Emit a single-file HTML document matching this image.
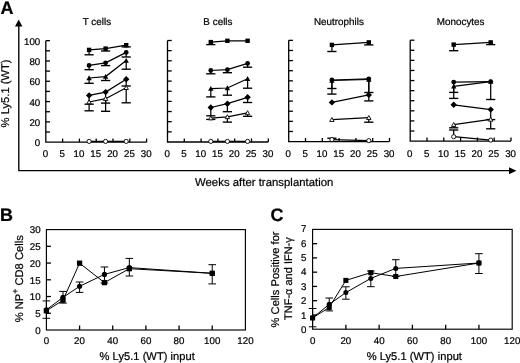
<!DOCTYPE html>
<html><head><meta charset="utf-8"><style>
html,body{margin:0;padding:0;background:#fff;width:520px;height:363px;overflow:hidden}
svg{display:block;filter:grayscale(1) blur(0.3px)}
text{font-family:"Liberation Sans", sans-serif;fill:#000;stroke:#000;stroke-width:0.22px}
</style></head><body>
<svg width="520" height="363" viewBox="0 0 520 363" fill="#000" stroke="#000">
<path d="M45.80 40.65V142.20H146.60" fill="none" stroke-width="1.3"/>
<line x1="45.80" y1="132.04" x2="50.00" y2="132.04" stroke-width="1.3"/>
<line x1="45.80" y1="121.89" x2="50.00" y2="121.89" stroke-width="1.3"/>
<line x1="45.80" y1="111.73" x2="50.00" y2="111.73" stroke-width="1.3"/>
<line x1="45.80" y1="101.58" x2="50.00" y2="101.58" stroke-width="1.3"/>
<line x1="45.80" y1="91.42" x2="50.00" y2="91.42" stroke-width="1.3"/>
<line x1="45.80" y1="81.27" x2="50.00" y2="81.27" stroke-width="1.3"/>
<line x1="45.80" y1="71.11" x2="50.00" y2="71.11" stroke-width="1.3"/>
<line x1="45.80" y1="60.96" x2="50.00" y2="60.96" stroke-width="1.3"/>
<line x1="45.80" y1="50.81" x2="50.00" y2="50.81" stroke-width="1.3"/>
<line x1="45.80" y1="40.65" x2="50.00" y2="40.65" stroke-width="1.3"/>
<line x1="62.60" y1="142.20" x2="62.60" y2="138.60" stroke-width="1.3"/>
<line x1="79.40" y1="142.20" x2="79.40" y2="138.60" stroke-width="1.3"/>
<line x1="96.20" y1="142.20" x2="96.20" y2="138.60" stroke-width="1.3"/>
<line x1="113.00" y1="142.20" x2="113.00" y2="138.60" stroke-width="1.3"/>
<line x1="129.80" y1="142.20" x2="129.80" y2="138.60" stroke-width="1.3"/>
<line x1="146.60" y1="142.20" x2="146.60" y2="138.60" stroke-width="1.3"/>
<text transform="translate(45.40 157.10) skewX(0.5)" font-size="9.8" text-anchor="middle" font-weight="normal" >0</text>
<text transform="translate(62.20 157.10) skewX(0.5)" font-size="9.8" text-anchor="middle" font-weight="normal" >5</text>
<text transform="translate(79.00 157.10) skewX(0.5)" font-size="9.8" text-anchor="middle" font-weight="normal" >10</text>
<text transform="translate(95.80 157.10) skewX(0.5)" font-size="9.8" text-anchor="middle" font-weight="normal" >15</text>
<text transform="translate(112.60 157.10) skewX(0.5)" font-size="9.8" text-anchor="middle" font-weight="normal" >20</text>
<text transform="translate(129.40 157.10) skewX(0.5)" font-size="9.8" text-anchor="middle" font-weight="normal" >25</text>
<text transform="translate(146.20 157.10) skewX(0.5)" font-size="9.8" text-anchor="middle" font-weight="normal" >30</text>
<text transform="translate(96.90 24.80) skewX(0.5)" font-size="9.9" text-anchor="middle" font-weight="normal" >T cells</text>
<text transform="translate(40.30 146.20) skewX(0.5)" font-size="9.8" text-anchor="end" font-weight="normal" >0</text>
<text transform="translate(40.30 125.89) skewX(0.5)" font-size="9.8" text-anchor="end" font-weight="normal" >20</text>
<text transform="translate(40.30 105.58) skewX(0.5)" font-size="9.8" text-anchor="end" font-weight="normal" >40</text>
<text transform="translate(40.30 85.27) skewX(0.5)" font-size="9.8" text-anchor="end" font-weight="normal" >60</text>
<text transform="translate(40.30 64.96) skewX(0.5)" font-size="9.8" text-anchor="end" font-weight="normal" >80</text>
<text transform="translate(40.30 44.65) skewX(0.5)" font-size="9.8" text-anchor="end" font-weight="normal" >100</text>
<path d="M167.50 40.50V142.00H268.30" fill="none" stroke-width="1.3"/>
<line x1="167.50" y1="131.85" x2="171.70" y2="131.85" stroke-width="1.3"/>
<line x1="167.50" y1="121.70" x2="171.70" y2="121.70" stroke-width="1.3"/>
<line x1="167.50" y1="111.55" x2="171.70" y2="111.55" stroke-width="1.3"/>
<line x1="167.50" y1="101.40" x2="171.70" y2="101.40" stroke-width="1.3"/>
<line x1="167.50" y1="91.25" x2="171.70" y2="91.25" stroke-width="1.3"/>
<line x1="167.50" y1="81.10" x2="171.70" y2="81.10" stroke-width="1.3"/>
<line x1="167.50" y1="70.95" x2="171.70" y2="70.95" stroke-width="1.3"/>
<line x1="167.50" y1="60.80" x2="171.70" y2="60.80" stroke-width="1.3"/>
<line x1="167.50" y1="50.65" x2="171.70" y2="50.65" stroke-width="1.3"/>
<line x1="167.50" y1="40.50" x2="171.70" y2="40.50" stroke-width="1.3"/>
<line x1="184.30" y1="142.00" x2="184.30" y2="138.40" stroke-width="1.3"/>
<line x1="201.10" y1="142.00" x2="201.10" y2="138.40" stroke-width="1.3"/>
<line x1="217.90" y1="142.00" x2="217.90" y2="138.40" stroke-width="1.3"/>
<line x1="234.70" y1="142.00" x2="234.70" y2="138.40" stroke-width="1.3"/>
<line x1="251.50" y1="142.00" x2="251.50" y2="138.40" stroke-width="1.3"/>
<line x1="268.30" y1="142.00" x2="268.30" y2="138.40" stroke-width="1.3"/>
<text transform="translate(167.10 157.10) skewX(0.5)" font-size="9.8" text-anchor="middle" font-weight="normal" >0</text>
<text transform="translate(183.90 157.10) skewX(0.5)" font-size="9.8" text-anchor="middle" font-weight="normal" >5</text>
<text transform="translate(200.70 157.10) skewX(0.5)" font-size="9.8" text-anchor="middle" font-weight="normal" >10</text>
<text transform="translate(217.50 157.10) skewX(0.5)" font-size="9.8" text-anchor="middle" font-weight="normal" >15</text>
<text transform="translate(234.30 157.10) skewX(0.5)" font-size="9.8" text-anchor="middle" font-weight="normal" >20</text>
<text transform="translate(251.10 157.10) skewX(0.5)" font-size="9.8" text-anchor="middle" font-weight="normal" >25</text>
<text transform="translate(267.90 157.10) skewX(0.5)" font-size="9.8" text-anchor="middle" font-weight="normal" >30</text>
<text transform="translate(217.90 24.80) skewX(0.5)" font-size="9.9" text-anchor="middle" font-weight="normal" >B cells</text>
<path d="M288.70 40.35V141.60H389.50" fill="none" stroke-width="1.3"/>
<line x1="288.70" y1="131.47" x2="292.90" y2="131.47" stroke-width="1.3"/>
<line x1="288.70" y1="121.35" x2="292.90" y2="121.35" stroke-width="1.3"/>
<line x1="288.70" y1="111.22" x2="292.90" y2="111.22" stroke-width="1.3"/>
<line x1="288.70" y1="101.10" x2="292.90" y2="101.10" stroke-width="1.3"/>
<line x1="288.70" y1="90.97" x2="292.90" y2="90.97" stroke-width="1.3"/>
<line x1="288.70" y1="80.85" x2="292.90" y2="80.85" stroke-width="1.3"/>
<line x1="288.70" y1="70.72" x2="292.90" y2="70.72" stroke-width="1.3"/>
<line x1="288.70" y1="60.60" x2="292.90" y2="60.60" stroke-width="1.3"/>
<line x1="288.70" y1="50.47" x2="292.90" y2="50.47" stroke-width="1.3"/>
<line x1="288.70" y1="40.35" x2="292.90" y2="40.35" stroke-width="1.3"/>
<line x1="305.50" y1="141.60" x2="305.50" y2="138.00" stroke-width="1.3"/>
<line x1="322.30" y1="141.60" x2="322.30" y2="138.00" stroke-width="1.3"/>
<line x1="339.10" y1="141.60" x2="339.10" y2="138.00" stroke-width="1.3"/>
<line x1="355.90" y1="141.60" x2="355.90" y2="138.00" stroke-width="1.3"/>
<line x1="372.70" y1="141.60" x2="372.70" y2="138.00" stroke-width="1.3"/>
<line x1="389.50" y1="141.60" x2="389.50" y2="138.00" stroke-width="1.3"/>
<text transform="translate(288.30 157.10) skewX(0.5)" font-size="9.8" text-anchor="middle" font-weight="normal" >0</text>
<text transform="translate(305.10 157.10) skewX(0.5)" font-size="9.8" text-anchor="middle" font-weight="normal" >5</text>
<text transform="translate(321.90 157.10) skewX(0.5)" font-size="9.8" text-anchor="middle" font-weight="normal" >10</text>
<text transform="translate(338.70 157.10) skewX(0.5)" font-size="9.8" text-anchor="middle" font-weight="normal" >15</text>
<text transform="translate(355.50 157.10) skewX(0.5)" font-size="9.8" text-anchor="middle" font-weight="normal" >20</text>
<text transform="translate(372.30 157.10) skewX(0.5)" font-size="9.8" text-anchor="middle" font-weight="normal" >25</text>
<text transform="translate(389.10 157.10) skewX(0.5)" font-size="9.8" text-anchor="middle" font-weight="normal" >30</text>
<text transform="translate(338.90 24.80) skewX(0.5)" font-size="9.9" text-anchor="middle" font-weight="normal" >Neutrophils</text>
<path d="M410.20 40.20V141.10H511.00" fill="none" stroke-width="1.3"/>
<line x1="410.20" y1="131.01" x2="414.40" y2="131.01" stroke-width="1.3"/>
<line x1="410.20" y1="120.92" x2="414.40" y2="120.92" stroke-width="1.3"/>
<line x1="410.20" y1="110.83" x2="414.40" y2="110.83" stroke-width="1.3"/>
<line x1="410.20" y1="100.74" x2="414.40" y2="100.74" stroke-width="1.3"/>
<line x1="410.20" y1="90.65" x2="414.40" y2="90.65" stroke-width="1.3"/>
<line x1="410.20" y1="80.56" x2="414.40" y2="80.56" stroke-width="1.3"/>
<line x1="410.20" y1="70.47" x2="414.40" y2="70.47" stroke-width="1.3"/>
<line x1="410.20" y1="60.38" x2="414.40" y2="60.38" stroke-width="1.3"/>
<line x1="410.20" y1="50.29" x2="414.40" y2="50.29" stroke-width="1.3"/>
<line x1="410.20" y1="40.20" x2="414.40" y2="40.20" stroke-width="1.3"/>
<line x1="427.00" y1="141.10" x2="427.00" y2="137.50" stroke-width="1.3"/>
<line x1="443.80" y1="141.10" x2="443.80" y2="137.50" stroke-width="1.3"/>
<line x1="460.60" y1="141.10" x2="460.60" y2="137.50" stroke-width="1.3"/>
<line x1="477.40" y1="141.10" x2="477.40" y2="137.50" stroke-width="1.3"/>
<line x1="494.20" y1="141.10" x2="494.20" y2="137.50" stroke-width="1.3"/>
<line x1="511.00" y1="141.10" x2="511.00" y2="137.50" stroke-width="1.3"/>
<text transform="translate(409.80 157.10) skewX(0.5)" font-size="9.8" text-anchor="middle" font-weight="normal" >0</text>
<text transform="translate(426.60 157.10) skewX(0.5)" font-size="9.8" text-anchor="middle" font-weight="normal" >5</text>
<text transform="translate(443.40 157.10) skewX(0.5)" font-size="9.8" text-anchor="middle" font-weight="normal" >10</text>
<text transform="translate(460.20 157.10) skewX(0.5)" font-size="9.8" text-anchor="middle" font-weight="normal" >15</text>
<text transform="translate(477.00 157.10) skewX(0.5)" font-size="9.8" text-anchor="middle" font-weight="normal" >20</text>
<text transform="translate(493.80 157.10) skewX(0.5)" font-size="9.8" text-anchor="middle" font-weight="normal" >25</text>
<text transform="translate(510.60 157.10) skewX(0.5)" font-size="9.8" text-anchor="middle" font-weight="normal" >30</text>
<text transform="translate(460.60 24.80) skewX(0.5)" font-size="9.9" text-anchor="middle" font-weight="normal" >Monocytes</text>
<polyline points="89.10,49.90 105.60,48.60 126.20,45.20" fill="none" stroke-width="1.25"/>
<line x1="89.10" y1="49.90" x2="89.10" y2="54.80" stroke-width="1.25"/>
<line x1="84.50" y1="54.80" x2="93.70" y2="54.80" stroke-width="1.375"/>
<line x1="105.60" y1="48.60" x2="105.60" y2="51.00" stroke-width="1.25"/>
<line x1="101.00" y1="51.00" x2="110.20" y2="51.00" stroke-width="1.375"/>
<line x1="126.20" y1="45.20" x2="126.20" y2="46.90" stroke-width="1.25"/>
<line x1="121.60" y1="46.90" x2="130.80" y2="46.90" stroke-width="1.375"/>
<polyline points="89.10,65.40 105.60,62.80 126.20,52.40" fill="none" stroke-width="1.25"/>
<line x1="89.10" y1="65.40" x2="89.10" y2="69.70" stroke-width="1.25"/>
<line x1="84.50" y1="69.70" x2="93.70" y2="69.70" stroke-width="1.375"/>
<line x1="105.60" y1="62.80" x2="105.60" y2="65.60" stroke-width="1.25"/>
<line x1="101.00" y1="65.60" x2="110.20" y2="65.60" stroke-width="1.375"/>
<line x1="126.20" y1="52.40" x2="126.20" y2="57.00" stroke-width="1.25"/>
<line x1="121.60" y1="57.00" x2="130.80" y2="57.00" stroke-width="1.375"/>
<polyline points="89.10,78.00 105.60,76.60 126.20,60.60" fill="none" stroke-width="1.25"/>
<line x1="89.10" y1="78.00" x2="89.10" y2="83.30" stroke-width="1.25"/>
<line x1="84.50" y1="83.30" x2="93.70" y2="83.30" stroke-width="1.375"/>
<line x1="105.60" y1="76.60" x2="105.60" y2="80.50" stroke-width="1.25"/>
<line x1="101.00" y1="80.50" x2="110.20" y2="80.50" stroke-width="1.375"/>
<line x1="126.20" y1="60.60" x2="126.20" y2="69.20" stroke-width="1.25"/>
<line x1="121.60" y1="69.20" x2="130.80" y2="69.20" stroke-width="1.375"/>
<polyline points="89.10,95.40 105.60,92.10 126.20,79.20" fill="none" stroke-width="1.25"/>
<line x1="89.10" y1="95.40" x2="89.10" y2="104.20" stroke-width="1.25"/>
<line x1="84.50" y1="104.20" x2="93.70" y2="104.20" stroke-width="1.375"/>
<line x1="105.60" y1="92.10" x2="105.60" y2="103.10" stroke-width="1.25"/>
<line x1="101.00" y1="103.10" x2="110.20" y2="103.10" stroke-width="1.375"/>
<line x1="126.20" y1="79.20" x2="126.20" y2="86.00" stroke-width="1.25"/>
<line x1="121.60" y1="86.00" x2="130.80" y2="86.00" stroke-width="1.375"/>
<polyline points="89.10,102.00 105.60,98.70 126.20,87.70" fill="none" stroke-width="1.25"/>
<line x1="89.10" y1="102.00" x2="89.10" y2="110.80" stroke-width="1.25"/>
<line x1="84.50" y1="110.80" x2="93.70" y2="110.80" stroke-width="1.375"/>
<line x1="105.60" y1="98.70" x2="105.60" y2="111.30" stroke-width="1.25"/>
<line x1="101.00" y1="111.30" x2="110.20" y2="111.30" stroke-width="1.375"/>
<line x1="126.20" y1="87.70" x2="126.20" y2="102.80" stroke-width="1.25"/>
<line x1="121.60" y1="102.80" x2="130.80" y2="102.80" stroke-width="1.375"/>
<polyline points="89.10,141.40 105.60,141.40 126.20,141.40" fill="none" stroke-width="1.25"/>
<rect x="86.90" y="47.70" width="4.40" height="4.40" stroke="none"/>
<rect x="103.40" y="46.40" width="4.40" height="4.40" stroke="none"/>
<rect x="124.00" y="43.00" width="4.40" height="4.40" stroke="none"/>
<circle cx="89.10" cy="65.40" r="2.40" stroke="none"/>
<circle cx="105.60" cy="62.80" r="2.40" stroke="none"/>
<circle cx="126.20" cy="52.40" r="2.40" stroke="none"/>
<path d="M89.10 75.30L91.80 80.16L86.40 80.16Z" stroke="none"/>
<path d="M105.60 73.90L108.30 78.76L102.90 78.76Z" stroke="none"/>
<path d="M126.20 57.90L128.90 62.76L123.50 62.76Z" stroke="none"/>
<path d="M89.10 92.20L92.30 95.40L89.10 98.60L85.90 95.40Z" stroke="none"/>
<path d="M105.60 88.90L108.80 92.10L105.60 95.30L102.40 92.10Z" stroke="none"/>
<path d="M126.20 76.00L129.40 79.20L126.20 82.40L123.00 79.20Z" stroke="none"/>
<path d="M89.10 99.80L91.30 103.76L86.90 103.76Z" fill="#fff" stroke-width="0.9"/>
<path d="M105.60 96.50L107.80 100.46L103.40 100.46Z" fill="#fff" stroke-width="0.9"/>
<path d="M126.20 85.50L128.40 89.46L124.00 89.46Z" fill="#fff" stroke-width="0.9"/>
<circle cx="89.10" cy="141.40" r="2.10" fill="#fff" stroke-width="0.9"/>
<circle cx="105.60" cy="141.40" r="2.10" fill="#fff" stroke-width="0.9"/>
<circle cx="126.20" cy="141.40" r="2.10" fill="#fff" stroke-width="0.9"/>
<polyline points="210.80,42.10 227.40,40.80 247.60,40.80" fill="none" stroke-width="1.25"/>
<line x1="210.80" y1="42.10" x2="210.80" y2="44.60" stroke-width="1.25"/>
<line x1="206.20" y1="44.60" x2="215.40" y2="44.60" stroke-width="1.375"/>
<polyline points="210.80,70.50 227.40,69.70 247.60,63.40" fill="none" stroke-width="1.25"/>
<line x1="210.80" y1="70.50" x2="210.80" y2="73.80" stroke-width="1.25"/>
<line x1="206.20" y1="73.80" x2="215.40" y2="73.80" stroke-width="1.375"/>
<line x1="227.40" y1="69.70" x2="227.40" y2="72.70" stroke-width="1.25"/>
<line x1="222.80" y1="72.70" x2="232.00" y2="72.70" stroke-width="1.375"/>
<line x1="247.60" y1="63.40" x2="247.60" y2="67.20" stroke-width="1.25"/>
<line x1="243.00" y1="67.20" x2="252.20" y2="67.20" stroke-width="1.375"/>
<polyline points="210.80,88.60 227.40,88.00 247.60,78.80" fill="none" stroke-width="1.25"/>
<line x1="210.80" y1="88.60" x2="210.80" y2="96.90" stroke-width="1.25"/>
<line x1="206.20" y1="96.90" x2="215.40" y2="96.90" stroke-width="1.375"/>
<line x1="227.40" y1="88.00" x2="227.40" y2="95.20" stroke-width="1.25"/>
<line x1="222.80" y1="95.20" x2="232.00" y2="95.20" stroke-width="1.375"/>
<line x1="247.60" y1="78.80" x2="247.60" y2="88.20" stroke-width="1.25"/>
<line x1="243.00" y1="88.20" x2="252.20" y2="88.20" stroke-width="1.375"/>
<polyline points="210.80,107.50 227.40,103.70 247.60,97.30" fill="none" stroke-width="1.25"/>
<line x1="210.80" y1="107.50" x2="210.80" y2="115.80" stroke-width="1.25"/>
<line x1="206.20" y1="115.80" x2="215.40" y2="115.80" stroke-width="1.375"/>
<line x1="227.40" y1="103.70" x2="227.40" y2="111.70" stroke-width="1.25"/>
<line x1="222.80" y1="111.70" x2="232.00" y2="111.70" stroke-width="1.375"/>
<line x1="247.60" y1="97.30" x2="247.60" y2="102.50" stroke-width="1.25"/>
<line x1="243.00" y1="102.50" x2="252.20" y2="102.50" stroke-width="1.375"/>
<polyline points="210.80,118.10 227.40,116.90 247.60,112.90" fill="none" stroke-width="1.25"/>
<line x1="210.80" y1="118.10" x2="210.80" y2="119.40" stroke-width="1.25"/>
<line x1="206.20" y1="119.40" x2="215.40" y2="119.40" stroke-width="1.375"/>
<line x1="227.40" y1="116.90" x2="227.40" y2="122.10" stroke-width="1.25"/>
<line x1="222.80" y1="122.10" x2="232.00" y2="122.10" stroke-width="1.375"/>
<line x1="247.60" y1="112.90" x2="247.60" y2="116.30" stroke-width="1.25"/>
<line x1="243.00" y1="116.30" x2="252.20" y2="116.30" stroke-width="1.375"/>
<polyline points="210.80,141.40 227.40,141.40 247.60,141.40" fill="none" stroke-width="1.25"/>
<rect x="208.60" y="39.90" width="4.40" height="4.40" stroke="none"/>
<rect x="225.20" y="38.60" width="4.40" height="4.40" stroke="none"/>
<rect x="245.40" y="38.60" width="4.40" height="4.40" stroke="none"/>
<circle cx="210.80" cy="70.50" r="2.40" stroke="none"/>
<circle cx="227.40" cy="69.70" r="2.40" stroke="none"/>
<circle cx="247.60" cy="63.40" r="2.40" stroke="none"/>
<path d="M210.80 85.90L213.50 90.76L208.10 90.76Z" stroke="none"/>
<path d="M227.40 85.30L230.10 90.16L224.70 90.16Z" stroke="none"/>
<path d="M247.60 76.10L250.30 80.96L244.90 80.96Z" stroke="none"/>
<path d="M210.80 104.30L214.00 107.50L210.80 110.70L207.60 107.50Z" stroke="none"/>
<path d="M227.40 100.50L230.60 103.70L227.40 106.90L224.20 103.70Z" stroke="none"/>
<path d="M247.60 94.10L250.80 97.30L247.60 100.50L244.40 97.30Z" stroke="none"/>
<path d="M210.80 115.90L213.00 119.86L208.60 119.86Z" fill="#fff" stroke-width="0.9"/>
<path d="M227.40 114.70L229.60 118.66L225.20 118.66Z" fill="#fff" stroke-width="0.9"/>
<path d="M247.60 110.70L249.80 114.66L245.40 114.66Z" fill="#fff" stroke-width="0.9"/>
<circle cx="210.80" cy="141.40" r="2.10" fill="#fff" stroke-width="0.9"/>
<circle cx="227.40" cy="141.40" r="2.10" fill="#fff" stroke-width="0.9"/>
<circle cx="247.60" cy="141.40" r="2.10" fill="#fff" stroke-width="0.9"/>
<polyline points="331.90,44.90 368.80,42.40" fill="none" stroke-width="1.25"/>
<line x1="331.90" y1="44.90" x2="331.90" y2="51.50" stroke-width="1.25"/>
<line x1="327.30" y1="51.50" x2="336.50" y2="51.50" stroke-width="1.375"/>
<line x1="368.80" y1="42.40" x2="368.80" y2="44.90" stroke-width="1.25"/>
<line x1="364.20" y1="44.90" x2="373.40" y2="44.90" stroke-width="1.375"/>
<polyline points="331.90,80.00 368.80,78.80" fill="none" stroke-width="1.25"/>
<line x1="331.90" y1="80.00" x2="331.90" y2="88.50" stroke-width="1.25"/>
<line x1="327.30" y1="88.50" x2="336.50" y2="88.50" stroke-width="1.375"/>
<line x1="368.80" y1="78.80" x2="368.80" y2="92.50" stroke-width="1.25"/>
<line x1="364.20" y1="92.50" x2="373.40" y2="92.50" stroke-width="1.375"/>
<polyline points="331.90,80.50 368.80,79.50" fill="none" stroke-width="1.25"/>
<line x1="331.90" y1="80.50" x2="331.90" y2="94.10" stroke-width="1.25"/>
<line x1="327.30" y1="94.10" x2="336.50" y2="94.10" stroke-width="1.375"/>
<line x1="368.80" y1="79.50" x2="368.80" y2="100.90" stroke-width="1.25"/>
<line x1="364.20" y1="100.90" x2="373.40" y2="100.90" stroke-width="1.375"/>
<polyline points="331.90,102.40 368.80,94.90" fill="none" stroke-width="1.25"/>
<polyline points="331.90,119.70 368.80,117.70" fill="none" stroke-width="1.25"/>
<line x1="368.80" y1="117.70" x2="368.80" y2="122.20" stroke-width="1.25"/>
<line x1="364.20" y1="122.20" x2="373.40" y2="122.20" stroke-width="1.375"/>
<polyline points="331.90,139.60 368.80,140.60" fill="none" stroke-width="1.25"/>
<line x1="331.90" y1="139.60" x2="331.90" y2="138.20" stroke-width="1.25"/>
<line x1="327.30" y1="138.20" x2="336.50" y2="138.20" stroke-width="1.375"/>
<rect x="329.70" y="42.70" width="4.40" height="4.40" stroke="none"/>
<rect x="366.60" y="40.20" width="4.40" height="4.40" stroke="none"/>
<circle cx="331.90" cy="80.00" r="2.40" stroke="none"/>
<circle cx="368.80" cy="78.80" r="2.40" stroke="none"/>
<path d="M331.90 77.80L334.60 82.66L329.20 82.66Z" stroke="none"/>
<path d="M368.80 76.80L371.50 81.66L366.10 81.66Z" stroke="none"/>
<path d="M331.90 99.20L335.10 102.40L331.90 105.60L328.70 102.40Z" stroke="none"/>
<path d="M368.80 91.70L372.00 94.90L368.80 98.10L365.60 94.90Z" stroke="none"/>
<path d="M331.90 117.50L334.10 121.46L329.70 121.46Z" fill="#fff" stroke-width="0.9"/>
<path d="M368.80 115.50L371.00 119.46L366.60 119.46Z" fill="#fff" stroke-width="0.9"/>
<circle cx="331.90" cy="139.60" r="2.10" fill="#fff" stroke-width="0.9"/>
<circle cx="368.80" cy="140.60" r="2.10" fill="#fff" stroke-width="0.9"/>
<polyline points="453.70,44.60 490.70,42.40" fill="none" stroke-width="1.25"/>
<line x1="453.70" y1="44.60" x2="453.70" y2="50.70" stroke-width="1.25"/>
<line x1="449.10" y1="50.70" x2="458.30" y2="50.70" stroke-width="1.375"/>
<line x1="490.70" y1="42.40" x2="490.70" y2="44.60" stroke-width="1.25"/>
<line x1="486.10" y1="44.60" x2="495.30" y2="44.60" stroke-width="1.375"/>
<polyline points="453.70,82.10 490.70,81.60" fill="none" stroke-width="1.25"/>
<line x1="453.70" y1="82.10" x2="453.70" y2="92.40" stroke-width="1.25"/>
<line x1="449.10" y1="92.40" x2="458.30" y2="92.40" stroke-width="1.375"/>
<line x1="490.70" y1="81.60" x2="490.70" y2="99.50" stroke-width="1.25"/>
<line x1="486.10" y1="99.50" x2="495.30" y2="99.50" stroke-width="1.375"/>
<polyline points="453.70,86.40 490.70,81.60" fill="none" stroke-width="1.25"/>
<line x1="453.70" y1="86.40" x2="453.70" y2="98.40" stroke-width="1.25"/>
<line x1="449.10" y1="98.40" x2="458.30" y2="98.40" stroke-width="1.375"/>
<polyline points="453.70,104.80 490.70,109.60" fill="none" stroke-width="1.25"/>
<line x1="490.70" y1="109.60" x2="490.70" y2="119.60" stroke-width="1.25"/>
<line x1="486.10" y1="119.60" x2="495.30" y2="119.60" stroke-width="1.375"/>
<polyline points="453.70,124.70 490.70,119.40" fill="none" stroke-width="1.25"/>
<line x1="453.70" y1="124.70" x2="453.70" y2="127.80" stroke-width="1.25"/>
<line x1="449.10" y1="127.80" x2="458.30" y2="127.80" stroke-width="1.375"/>
<line x1="490.70" y1="119.40" x2="490.70" y2="128.80" stroke-width="1.25"/>
<line x1="486.10" y1="128.80" x2="495.30" y2="128.80" stroke-width="1.375"/>
<polyline points="453.70,136.70 490.70,140.10" fill="none" stroke-width="1.25"/>
<line x1="453.70" y1="136.70" x2="453.70" y2="130.00" stroke-width="1.25"/>
<line x1="449.10" y1="130.00" x2="458.30" y2="130.00" stroke-width="1.375"/>
<rect x="451.50" y="42.40" width="4.40" height="4.40" stroke="none"/>
<rect x="488.50" y="40.20" width="4.40" height="4.40" stroke="none"/>
<circle cx="453.70" cy="82.10" r="2.40" stroke="none"/>
<circle cx="490.70" cy="81.60" r="2.40" stroke="none"/>
<path d="M453.70 83.70L456.40 88.56L451.00 88.56Z" stroke="none"/>
<path d="M490.70 78.90L493.40 83.76L488.00 83.76Z" stroke="none"/>
<path d="M453.70 101.60L456.90 104.80L453.70 108.00L450.50 104.80Z" stroke="none"/>
<path d="M490.70 106.40L493.90 109.60L490.70 112.80L487.50 109.60Z" stroke="none"/>
<path d="M453.70 122.50L455.90 126.46L451.50 126.46Z" fill="#fff" stroke-width="0.9"/>
<path d="M490.70 117.20L492.90 121.16L488.50 121.16Z" fill="#fff" stroke-width="0.9"/>
<circle cx="453.70" cy="136.70" r="2.10" fill="#fff" stroke-width="0.9"/>
<circle cx="490.70" cy="140.10" r="2.10" fill="#fff" stroke-width="0.9"/>
<path d="M18.8 26V170.6H509" fill="none" stroke-width="1.35"/>
<path d="M18.7 19.6L22.4 26.6L15.0 26.6Z" stroke="none"/>
<path d="M516.4 170.7L509 167.2L509 174.2Z" stroke="none"/>
<text transform="translate(264.20 185.90) skewX(0.5)" font-size="11.4" text-anchor="middle" font-weight="normal" >Weeks after transplantation</text>
<text transform="translate(0.60 14.00) skewX(0.5)" font-size="18" text-anchor="start" font-weight="bold" >A</text>
<text transform="translate(9.0 93.4) rotate(-90) skewX(0.5)" font-size="11.2" text-anchor="middle">% Ly5.1 (WT)</text>
<rect x="46.4" y="229.6" width="199.0" height="100.4" fill="none" stroke-width="1.15"/>
<line x1="46.40" y1="313.27" x2="50.90" y2="313.27" stroke-width="1.3"/>
<line x1="46.40" y1="296.53" x2="50.90" y2="296.53" stroke-width="1.3"/>
<line x1="46.40" y1="279.80" x2="50.90" y2="279.80" stroke-width="1.3"/>
<line x1="46.40" y1="263.07" x2="50.90" y2="263.07" stroke-width="1.3"/>
<line x1="46.40" y1="246.33" x2="50.90" y2="246.33" stroke-width="1.3"/>
<line x1="79.57" y1="330.00" x2="79.57" y2="325.50" stroke-width="1.3"/>
<line x1="112.73" y1="330.00" x2="112.73" y2="325.50" stroke-width="1.3"/>
<line x1="145.90" y1="330.00" x2="145.90" y2="325.50" stroke-width="1.3"/>
<line x1="179.07" y1="330.00" x2="179.07" y2="325.50" stroke-width="1.3"/>
<line x1="212.23" y1="330.00" x2="212.23" y2="325.50" stroke-width="1.3"/>
<text transform="translate(40.70 333.80) skewX(0.5)" font-size="9.8" text-anchor="end" font-weight="normal" >0</text>
<text transform="translate(40.70 317.07) skewX(0.5)" font-size="9.8" text-anchor="end" font-weight="normal" >5</text>
<text transform="translate(40.70 300.33) skewX(0.5)" font-size="9.8" text-anchor="end" font-weight="normal" >10</text>
<text transform="translate(40.70 283.60) skewX(0.5)" font-size="9.8" text-anchor="end" font-weight="normal" >15</text>
<text transform="translate(40.70 266.87) skewX(0.5)" font-size="9.8" text-anchor="end" font-weight="normal" >20</text>
<text transform="translate(40.70 250.13) skewX(0.5)" font-size="9.8" text-anchor="end" font-weight="normal" >25</text>
<text transform="translate(40.70 233.40) skewX(0.5)" font-size="9.8" text-anchor="end" font-weight="normal" >30</text>
<text transform="translate(46.40 343.90) skewX(0.5)" font-size="9.8" text-anchor="middle" font-weight="normal" >0</text>
<text transform="translate(79.57 343.90) skewX(0.5)" font-size="9.8" text-anchor="middle" font-weight="normal" >20</text>
<text transform="translate(112.73 343.90) skewX(0.5)" font-size="9.8" text-anchor="middle" font-weight="normal" >40</text>
<text transform="translate(145.90 343.90) skewX(0.5)" font-size="9.8" text-anchor="middle" font-weight="normal" >60</text>
<text transform="translate(179.07 343.90) skewX(0.5)" font-size="9.8" text-anchor="middle" font-weight="normal" >80</text>
<text transform="translate(212.23 343.90) skewX(0.5)" font-size="9.8" text-anchor="middle" font-weight="normal" >100</text>
<text transform="translate(245.40 343.90) skewX(0.5)" font-size="9.8" text-anchor="middle" font-weight="normal" >120</text>
<text transform="translate(147.20 360.00) skewX(0.5)" font-size="11.2" text-anchor="middle" font-weight="normal" >% Ly5.1 (WT) input</text>
<text transform="translate(0.10 221.10) skewX(0.5)" font-size="18" text-anchor="start" font-weight="bold" >B</text>
<text transform="translate(22.6 278.8) rotate(-90) skewX(0.5)" font-size="11.2" text-anchor="middle">% NP<tspan font-size="8.6" dy="-4.6">+</tspan><tspan dy="4.6"> CD8 Cells</tspan></text>
<polyline points="46.40,310.80 62.98,300.20 79.57,263.20 104.44,282.60 129.32,268.70 212.23,273.30" fill="none" stroke-width="1.0"/>
<polyline points="46.40,309.80 62.98,297.40 79.57,286.30 104.44,274.40 129.32,267.60 212.23,273.30" fill="none" stroke-width="1.0"/>
<line x1="46.40" y1="300.90" x2="46.40" y2="318.30" stroke-width="1.0"/>
<line x1="42.60" y1="300.90" x2="50.20" y2="300.90" stroke-width="1.0"/>
<line x1="42.60" y1="318.30" x2="50.20" y2="318.30" stroke-width="1.0"/>
<line x1="62.98" y1="291.40" x2="62.98" y2="303.10" stroke-width="1.0"/>
<line x1="59.18" y1="291.40" x2="66.78" y2="291.40" stroke-width="1.0"/>
<line x1="59.18" y1="303.10" x2="66.78" y2="303.10" stroke-width="1.0"/>
<line x1="79.57" y1="282.00" x2="79.57" y2="292.40" stroke-width="1.0"/>
<line x1="75.77" y1="282.00" x2="83.37" y2="282.00" stroke-width="1.0"/>
<line x1="75.77" y1="292.40" x2="83.37" y2="292.40" stroke-width="1.0"/>
<line x1="104.44" y1="267.00" x2="104.44" y2="283.00" stroke-width="1.0"/>
<line x1="100.64" y1="267.00" x2="108.24" y2="267.00" stroke-width="1.0"/>
<line x1="100.64" y1="283.00" x2="108.24" y2="283.00" stroke-width="1.0"/>
<line x1="129.32" y1="258.40" x2="129.32" y2="276.00" stroke-width="1.0"/>
<line x1="125.52" y1="258.40" x2="133.12" y2="258.40" stroke-width="1.0"/>
<line x1="125.52" y1="276.00" x2="133.12" y2="276.00" stroke-width="1.0"/>
<line x1="212.23" y1="264.70" x2="212.23" y2="283.90" stroke-width="1.0"/>
<line x1="208.43" y1="264.70" x2="216.03" y2="264.70" stroke-width="1.0"/>
<line x1="208.43" y1="283.90" x2="216.03" y2="283.90" stroke-width="1.0"/>
<circle cx="46.40" cy="309.80" r="2.59" stroke="none"/>
<circle cx="62.98" cy="297.40" r="2.59" stroke="none"/>
<circle cx="79.57" cy="286.30" r="2.59" stroke="none"/>
<circle cx="104.44" cy="274.40" r="2.59" stroke="none"/>
<circle cx="129.32" cy="267.60" r="2.59" stroke="none"/>
<circle cx="212.23" cy="273.30" r="2.59" stroke="none"/>
<rect x="43.76" y="308.16" width="5.28" height="5.28" stroke="none"/>
<rect x="60.34" y="297.56" width="5.28" height="5.28" stroke="none"/>
<rect x="76.93" y="260.56" width="5.28" height="5.28" stroke="none"/>
<rect x="101.80" y="279.96" width="5.28" height="5.28" stroke="none"/>
<rect x="126.68" y="266.06" width="5.28" height="5.28" stroke="none"/>
<rect x="209.59" y="270.66" width="5.28" height="5.28" stroke="none"/>
<rect x="312.6" y="229.4" width="199.60000000000002" height="99.79999999999998" fill="none" stroke-width="1.15"/>
<line x1="312.60" y1="314.94" x2="317.10" y2="314.94" stroke-width="1.3"/>
<line x1="312.60" y1="300.69" x2="317.10" y2="300.69" stroke-width="1.3"/>
<line x1="312.60" y1="286.43" x2="317.10" y2="286.43" stroke-width="1.3"/>
<line x1="312.60" y1="272.17" x2="317.10" y2="272.17" stroke-width="1.3"/>
<line x1="312.60" y1="257.91" x2="317.10" y2="257.91" stroke-width="1.3"/>
<line x1="312.60" y1="243.66" x2="317.10" y2="243.66" stroke-width="1.3"/>
<line x1="345.87" y1="329.20" x2="345.87" y2="324.70" stroke-width="1.3"/>
<line x1="379.13" y1="329.20" x2="379.13" y2="324.70" stroke-width="1.3"/>
<line x1="412.40" y1="329.20" x2="412.40" y2="324.70" stroke-width="1.3"/>
<line x1="445.67" y1="329.20" x2="445.67" y2="324.70" stroke-width="1.3"/>
<line x1="478.93" y1="329.20" x2="478.93" y2="324.70" stroke-width="1.3"/>
<text transform="translate(306.40 333.00) skewX(0.5)" font-size="9.8" text-anchor="end" font-weight="normal" >0</text>
<text transform="translate(306.40 318.59) skewX(0.5)" font-size="9.8" text-anchor="end" font-weight="normal" >1</text>
<text transform="translate(306.40 304.19) skewX(0.5)" font-size="9.8" text-anchor="end" font-weight="normal" >2</text>
<text transform="translate(306.40 289.78) skewX(0.5)" font-size="9.8" text-anchor="end" font-weight="normal" >3</text>
<text transform="translate(306.40 275.37) skewX(0.5)" font-size="9.8" text-anchor="end" font-weight="normal" >4</text>
<text transform="translate(306.40 260.96) skewX(0.5)" font-size="9.8" text-anchor="end" font-weight="normal" >5</text>
<text transform="translate(306.40 246.56) skewX(0.5)" font-size="9.8" text-anchor="end" font-weight="normal" >6</text>
<text transform="translate(306.40 232.15) skewX(0.5)" font-size="9.8" text-anchor="end" font-weight="normal" >7</text>
<text transform="translate(312.60 343.80) skewX(0.5)" font-size="9.8" text-anchor="middle" font-weight="normal" >0</text>
<text transform="translate(345.87 343.80) skewX(0.5)" font-size="9.8" text-anchor="middle" font-weight="normal" >20</text>
<text transform="translate(379.13 343.80) skewX(0.5)" font-size="9.8" text-anchor="middle" font-weight="normal" >40</text>
<text transform="translate(412.40 343.80) skewX(0.5)" font-size="9.8" text-anchor="middle" font-weight="normal" >60</text>
<text transform="translate(445.67 343.80) skewX(0.5)" font-size="9.8" text-anchor="middle" font-weight="normal" >80</text>
<text transform="translate(478.93 343.80) skewX(0.5)" font-size="9.8" text-anchor="middle" font-weight="normal" >100</text>
<text transform="translate(512.20 343.80) skewX(0.5)" font-size="9.8" text-anchor="middle" font-weight="normal" >120</text>
<text transform="translate(414.30 360.00) skewX(0.5)" font-size="11.2" text-anchor="middle" font-weight="normal" >% Ly5.1 (WT) input</text>
<text transform="translate(270.50 220.80) skewX(0.5)" font-size="18" text-anchor="start" font-weight="bold" >C</text>
<text transform="translate(278.7 279.4) rotate(-90) skewX(0.5)" font-size="11.15" text-anchor="middle">% Cells Positive for</text>
<text transform="translate(291.5 278.6) rotate(-90) skewX(0.5)" font-size="11.0" text-anchor="middle">TNF-α and IFN-γ</text>
<polyline points="312.60,317.90 329.23,307.40 345.87,280.40 370.82,272.70 395.77,276.50 478.93,263.00" fill="none" stroke-width="1.0"/>
<polyline points="312.60,317.90 329.23,304.30 345.87,292.60 370.82,278.40 395.77,268.40 478.93,263.00" fill="none" stroke-width="1.0"/>
<line x1="312.60" y1="308.50" x2="312.60" y2="326.80" stroke-width="1.0"/>
<line x1="308.80" y1="308.50" x2="316.40" y2="308.50" stroke-width="1.0"/>
<line x1="308.80" y1="326.80" x2="316.40" y2="326.80" stroke-width="1.0"/>
<line x1="329.23" y1="298.00" x2="329.23" y2="310.90" stroke-width="1.0"/>
<line x1="325.43" y1="298.00" x2="333.03" y2="298.00" stroke-width="1.0"/>
<line x1="325.43" y1="310.90" x2="333.03" y2="310.90" stroke-width="1.0"/>
<line x1="345.87" y1="286.80" x2="345.87" y2="299.20" stroke-width="1.0"/>
<line x1="342.07" y1="286.80" x2="349.67" y2="286.80" stroke-width="1.0"/>
<line x1="342.07" y1="299.20" x2="349.67" y2="299.20" stroke-width="1.0"/>
<line x1="370.82" y1="271.00" x2="370.82" y2="286.70" stroke-width="1.0"/>
<line x1="367.02" y1="271.00" x2="374.62" y2="271.00" stroke-width="1.0"/>
<line x1="367.02" y1="286.70" x2="374.62" y2="286.70" stroke-width="1.0"/>
<line x1="395.77" y1="259.70" x2="395.77" y2="276.50" stroke-width="1.0"/>
<line x1="391.97" y1="259.70" x2="399.57" y2="259.70" stroke-width="1.0"/>
<line x1="391.97" y1="276.50" x2="399.57" y2="276.50" stroke-width="1.0"/>
<line x1="478.93" y1="253.70" x2="478.93" y2="273.50" stroke-width="1.0"/>
<line x1="475.13" y1="253.70" x2="482.73" y2="253.70" stroke-width="1.0"/>
<line x1="475.13" y1="273.50" x2="482.73" y2="273.50" stroke-width="1.0"/>
<circle cx="312.60" cy="317.90" r="2.52" stroke="none"/>
<circle cx="329.23" cy="304.30" r="2.52" stroke="none"/>
<circle cx="345.87" cy="292.60" r="2.52" stroke="none"/>
<circle cx="370.82" cy="278.40" r="2.52" stroke="none"/>
<circle cx="395.77" cy="268.40" r="2.52" stroke="none"/>
<circle cx="478.93" cy="263.00" r="2.52" stroke="none"/>
<rect x="310.07" y="315.37" width="5.06" height="5.06" stroke="none"/>
<rect x="326.70" y="304.87" width="5.06" height="5.06" stroke="none"/>
<rect x="343.34" y="277.87" width="5.06" height="5.06" stroke="none"/>
<rect x="368.29" y="270.17" width="5.06" height="5.06" stroke="none"/>
<rect x="393.24" y="273.97" width="5.06" height="5.06" stroke="none"/>
<rect x="476.40" y="260.47" width="5.06" height="5.06" stroke="none"/>
</svg>
</body></html>
